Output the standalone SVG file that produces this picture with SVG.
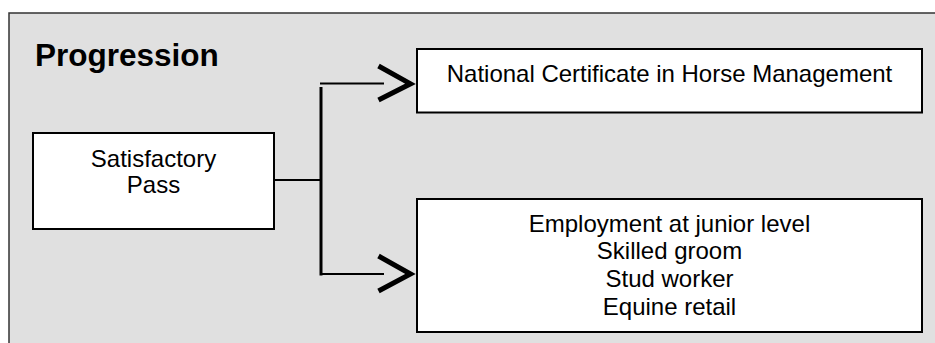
<svg xmlns="http://www.w3.org/2000/svg" width="935" height="343" viewBox="0 0 935 343">
<style>
.box{fill:#ffffff;stroke:#000000;stroke-width:2}
.t{font-family:"Liberation Sans",Arial,sans-serif;font-size:24px;fill:#000000;text-anchor:middle}
.line{stroke:#000000;stroke-width:2;fill:none}
.head{stroke:#000000;stroke-width:5;fill:none;stroke-linejoin:miter}
</style>
<rect x="0" y="0" width="935" height="343" fill="#ffffff"/>
<rect id="frame" x="9" y="13" width="940" height="340" fill="#e0e0e0" stroke="#333333" stroke-width="1.5"/>
<text x="35" y="66" font-family="Liberation Sans, Arial, sans-serif" font-size="31.5" font-weight="bold" fill="#000000">Progression</text>
<g id="connectors">
<line class="line" x1="274" y1="180" x2="321" y2="180"/>
<line x1="321" y1="87" x2="321" y2="275.5" stroke="#000000" stroke-width="3"/>
<line class="line" x1="320" y1="83.5" x2="384" y2="83.5"/>
<line class="line" x1="320" y1="274" x2="384" y2="274"/>
<polyline class="head" points="378.5,66 410.5,83.8 378.5,100"/>
<polyline class="head" points="378.5,256 410.5,274 378.5,291"/>
</g>
<g id="node-pass">
<rect class="box" x="33" y="133" width="241" height="96"/>
<text class="t" x="153.5" y="166.5">Satisfactory</text>
<text class="t" x="153.5" y="192.5">Pass</text>
</g>
<g id="node-ncert">
<rect class="box" x="417" y="49" width="505" height="63.5"/>
<text class="t" x="669.5" y="81.5">National Certificate in Horse Management</text>
</g>
<g id="node-employment">
<rect class="box" x="417" y="199" width="505" height="133"/>
<text class="t" x="669.5" y="231.5">Employment at junior level</text>
<text class="t" x="669.5" y="259.3">Skilled groom</text>
<text class="t" x="669.5" y="287">Stud worker</text>
<text class="t" x="669.5" y="314.8">Equine retail</text>
</g>
</svg>
